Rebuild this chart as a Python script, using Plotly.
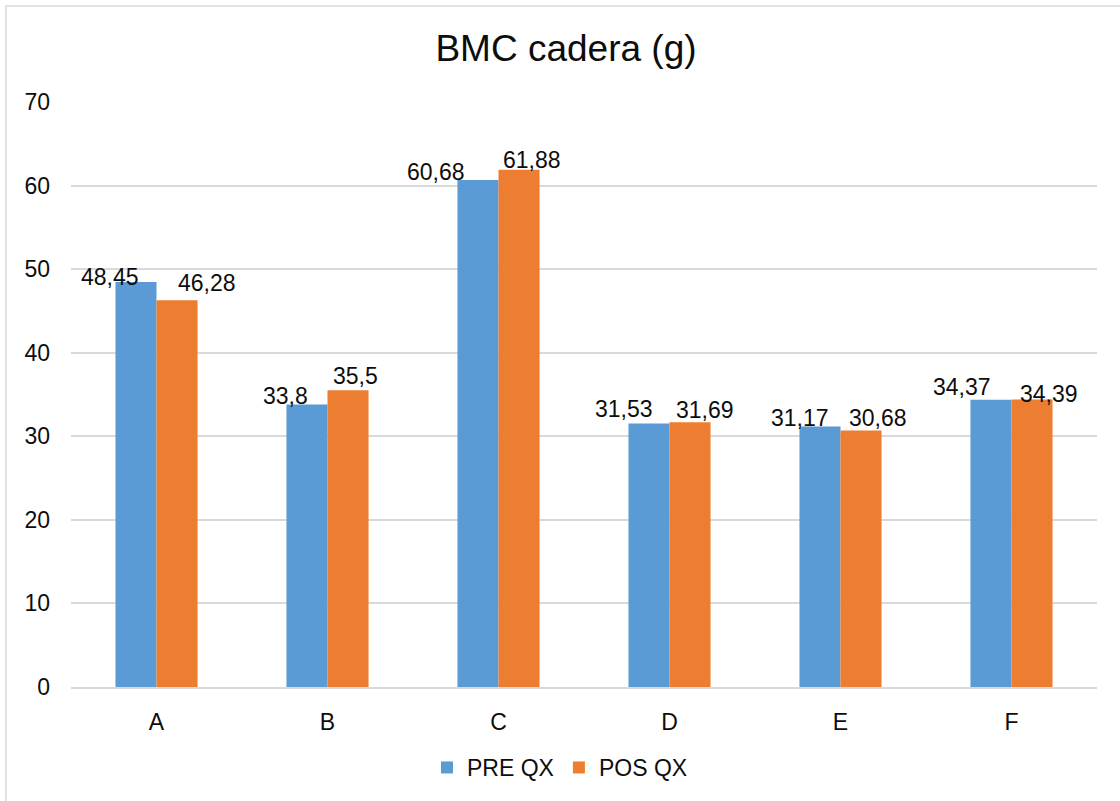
import plotly.graph_objects as go

categories = ["A", "B", "C", "D", "E", "F"]
pre_qx = [48.45, 33.8, 60.68, 31.53, 31.17, 34.37]
pos_qx = [46.28, 35.5, 61.88, 31.69, 30.68, 34.39]
series_names = ["PRE QX", "POS QX"]
y_ticks = [0, 10, 20, 30, 40, 50, 60, 70]

# label placement styling (pixel nudges, as in the reference)
pre_xshift = [-26, -21, -42, -25, -20, -29]
pos_xshift = [30, 7, 13, 15, 17, 17]
pre_yshift = [5, 8.5, 7.5, 14.5, 9, 13]
pos_yshift = [17, 14, 9.5, 12.5, 13, 5.6]

BLUE = "#5B9BD5"
ORANGE = "#ED7D31"
FONT = "Liberation Sans, Arial, sans-serif"
TXT = "#0d0d0d"
FS = 23

def fmt(v):
    return ("%g" % v).replace(".", ",")

fig = go.Figure()
fig.add_trace(go.Bar(x=categories, y=pre_qx, name=series_names[0], marker=dict(color=BLUE, line=dict(width=0))))
fig.add_trace(go.Bar(x=categories, y=pos_qx, name=series_names[1], marker=dict(color=ORANGE, line=dict(width=0))))

annotations = []
for i, (a, b) in enumerate(zip(pre_qx, pos_qx)):
    annotations.append(dict(x=i - 0.12, y=a, xref="x", yref="y", text=fmt(a), showarrow=False,
                            xanchor="center", yanchor="middle", xshift=pre_xshift[i], yshift=pre_yshift[i],
                            font=dict(family=FONT, size=FS, color=TXT)))
    annotations.append(dict(x=i + 0.12, y=b, xref="x", yref="y", text=fmt(b), showarrow=False,
                            xanchor="center", yanchor="middle", xshift=pos_xshift[i], yshift=pos_yshift[i],
                            font=dict(family=FONT, size=FS, color=TXT)))

fig.update_layout(
    width=1120, height=801,
    margin=dict(l=71, r=23, t=102, b=114, autoexpand=False),
    paper_bgcolor="white", plot_bgcolor="white",
    font=dict(family=FONT, size=FS, color=TXT),
    barmode="group", bargap=0.52, bargroupgap=0,
    title=dict(text="BMC cadera (g)", x=566/1120, xref="container", xanchor="center",
               y=1 - 48/801, yref="container", yanchor="middle",
               font=dict(family=FONT, size=37, color=TXT)),
    legend=dict(orientation="h", x=0.5, xref="container", xanchor="center",
                y=(687 - 767.5) / 585, yanchor="middle",
                font=dict(family=FONT, size=FS, color=TXT), itemwidth=30,
                bgcolor="rgba(0,0,0,0)"),
    annotations=annotations,
    shapes=[dict(type="rect", xref="paper", yref="paper",
                 x0=(6 - 71) / 1026, x1=1.2, y0=-0.4, y1=(687 - 6) / 585,
                 line=dict(color="#D9D9D9", width=1.5), fillcolor="rgba(0,0,0,0)", layer="below")],
)
fig.update_xaxes(showgrid=False, showline=True, linecolor="#D9D9D9", linewidth=1.5,
                 ticks="", ticklabelstandoff=14, tickfont=dict(family=FONT, size=FS, color=TXT))
fig.update_yaxes(range=[0, 70], tickvals=y_ticks, showgrid=True, gridcolor="#D9D9D9", gridwidth=1.5,
                 zeroline=False, showline=False, ticks="", ticklabelstandoff=20,
                 tickfont=dict(family=FONT, size=FS, color=TXT))

fig.write_html("out.html")
